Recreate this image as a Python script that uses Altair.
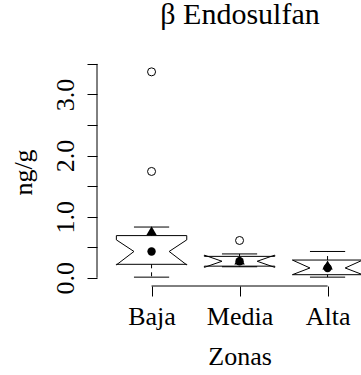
import json
import altair as alt
import pandas as pd

# ---- data ----
zonas = ["Baja", "Media", "Alta"]
posiciones = [1, 2, 3]
bigote_inf = [0.01, 0.18, 0.01]
q1 = [0.22, 0.19, 0.05]
mediana = [0.43, 0.27, 0.16]
q3 = [0.69, 0.35, 0.29]
bigote_sup = [0.83, 0.39, 0.43]
muesca_inf = [0.21, 0.17, 0.05]
muesca_sup = [0.62, 0.37, 0.29]
media = [0.77, 0.29, 0.21]
atipicos_zona = ["Baja", "Baja", "Media"]
atipicos_valor = [3.37, 1.74, 0.61]
y_ticks = [0.0, 0.5, 1.0, 1.5, 2.0, 2.5, 3.0, 3.5]

# ---- geometry / style constants ----
HALF = 0.4      # half box width (boxwex 0.8)
NOTCH = 0.5     # notch depth fraction
STAPLE = 0.5    # staple width fraction
X_DOM = [0.38, 3.38]
Y_DOM = [-0.135, 3.515]
FONT = "Liberation Serif"
FS = 26

pos_of = dict(zip(zonas, posiciones))

rows = []
for z, p, lo, nlo, m, nhi, hi in zip(zonas, posiciones, q1, muesca_inf, mediana, muesca_sup, q3):
    fx = [-1, -1, -NOTCH, -1, -1, 1, 1, NOTCH, 1, 1, -1]
    fy = [lo, nlo, m, nhi, hi, hi, nhi, m, nlo, lo, lo]
    for i, (a, b) in enumerate(zip(fx, fy)):
        rows.append({"zona": z, "orden": i, "x": p + a * HALF, "y": b})
caja = pd.DataFrame(rows)

bigotes = pd.DataFrame({
    "x": posiciones * 2,
    "y": q3 + q1,
    "y2": bigote_sup + bigote_inf,
})
topes = pd.DataFrame({
    "x": [p - STAPLE * HALF for p in posiciones] * 2,
    "x2": [p + STAPLE * HALF for p in posiciones] * 2,
    "y": bigote_sup + bigote_inf,
})
puntos = pd.DataFrame({"x": posiciones, "med": mediana, "mean": media})
atipicos = pd.DataFrame({"x": [pos_of[z] for z in atipicos_zona], "y": atipicos_valor})
eje_y = pd.DataFrame({"x": [X_DOM[0]], "y": [y_ticks[0]], "y2": [y_ticks[-1]]})
eje_x = pd.DataFrame({"x": [posiciones[0]], "x2": [posiciones[-1]], "y": [Y_DOM[0]]})

x_labels = f"{json.dumps(zonas)}[indexof({json.dumps(posiciones)}, datum.value)]"

x_axis = alt.Axis(
    values=posiciones, labelExpr=x_labels, domain=False, grid=False,
    ticks=True, tickSize=10, tickColor="black", tickWidth=1,
    labelAngle=0, labelAlign="center", labelBaseline="alphabetic", labelPadding=28,
    labelFont=FONT, labelFontSize=FS, labelColor="black",
    labelFlush=False, labelOverlap=False,
    title="Zonas", titleFont=FONT, titleFontSize=FS, titleFontWeight="normal",
    titleColor="black", titleAlign="center", titleBaseline="alphabetic",
    titleX=142.6, titleY=78.3,
)
y_axis = alt.Axis(
    values=y_ticks,
    labelExpr="datum.value % 1 == 0 ? format(datum.value, '.1f') : ''",
    domain=False, grid=False, ticks=True, tickSize=10, tickColor="black", tickWidth=1,
    labelAngle=270, labelAlign="center", labelBaseline="alphabetic", labelPadding=14,
    labelFont=FONT, labelFontSize=FS, labelColor="black",
    labelFlush=False, labelOverlap=False,
    title="ng/g", titleFont=FONT, titleFontSize=FS, titleFontWeight="normal",
    titleColor="black", titleAngle=270, titleAlign="center", titleBaseline="alphabetic",
    titleX=-65.5, titleY=109,
)


def X(field):
    return alt.X(field, type="quantitative", scale=alt.Scale(domain=X_DOM, nice=False, zero=False), axis=x_axis)


def Y(field):
    return alt.Y(field, type="quantitative", scale=alt.Scale(domain=Y_DOM, nice=False, zero=False), axis=y_axis)


box = alt.Chart(caja).mark_line(color="black", strokeWidth=1, clip=True).encode(
    x=X("x"), y=Y("y"), order="orden:Q", detail="zona:N"
)
whisk = alt.Chart(bigotes).mark_rule(color="black", strokeWidth=1, strokeDash=[4, 4]).encode(
    x=X("x"), y=Y("y"), y2="y2"
)
caps = alt.Chart(topes).mark_rule(color="black", strokeWidth=1).encode(
    x=X("x"), x2="x2", y=Y("y")
)
dots = alt.Chart(puntos).mark_point(shape="circle", filled=True, color="black", size=70, opacity=1).encode(
    x=X("x"), y=Y("med")
)
tris = alt.Chart(puntos).mark_point(shape="triangle-up", filled=True, color="black", size=110, opacity=1).encode(
    x=X("x"), y=Y("mean")
)
outs = alt.Chart(atipicos).mark_point(shape="circle", filled=False, color="black", size=64, strokeWidth=1, opacity=1).encode(
    x=X("x"), y=Y("y")
)
yline = alt.Chart(eje_y).mark_rule(color="black", strokeWidth=1).encode(x=X("x"), y=Y("y"), y2="y2")
xline = alt.Chart(eje_x).mark_rule(color="black", strokeWidth=1).encode(x=X("x"), x2="x2", y=Y("y"))

chart = alt.layer(box, whisk, caps, dots, tris, outs, yline, xline).properties(
    width=264,
    height=223,
    title=alt.TitleParams(
        text="β Endosulfan", font=FONT, fontSize=30, fontWeight="normal", color="black",
        anchor="middle", frame="group", dx=11, offset=9, baseline="alphabetic",
    ),
    padding={"left": 97, "top": 63, "right": 0, "bottom": 89},
    autosize=alt.AutoSizeParams(type="none"),
    background="white",
).configure_view(stroke=None)

chart.save("out.html", embed_options={"renderer": "svg", "actions": False})
